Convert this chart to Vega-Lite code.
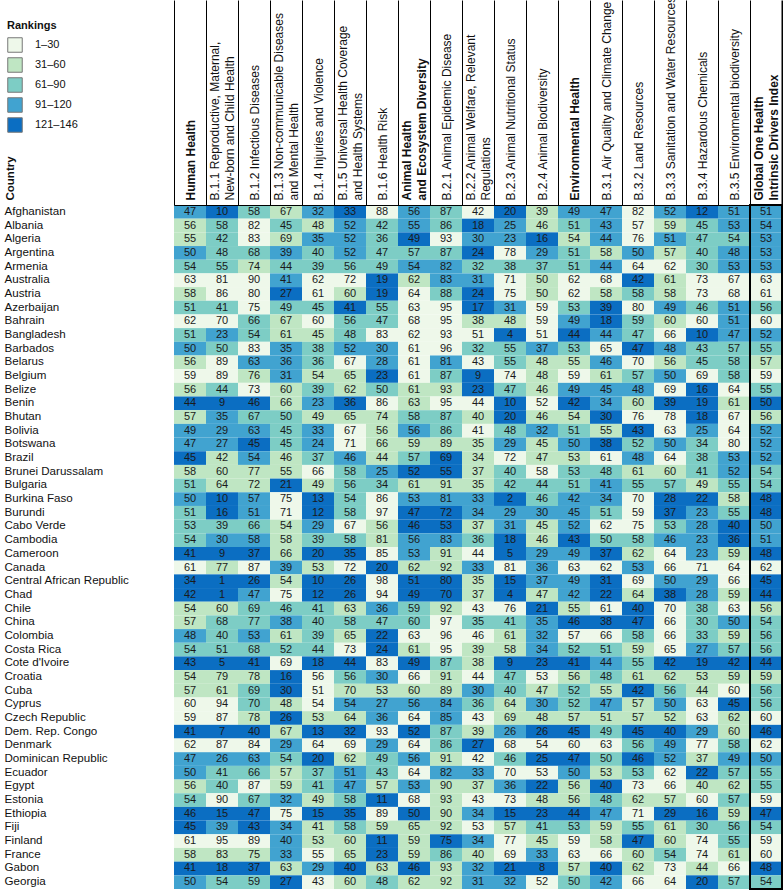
{
"$schema":"https://vega.github.io/schema/vega-lite/v6.json",
"autosize":{"type":"none"},
"padding":{"left":174,"top":205,"right":1,"bottom":2},
"width":608,"height":684,
"background":"white",
"config":{"view":{"stroke":null},"font":"Liberation Sans"},
"data":{"values":[
{"c":"Afghanistan","k":"HH","v":47,"r":4},{"c":"Afghanistan","k":"B11","v":10,"r":5},{"c":"Afghanistan","k":"B12","v":58,"r":3},{"c":"Afghanistan","k":"B13","v":67,"r":2},{"c":"Afghanistan","k":"B14","v":32,"r":4},{"c":"Afghanistan","k":"B15","v":33,"r":5},{"c":"Afghanistan","k":"B16","v":88,"r":1},{"c":"Afghanistan","k":"AH","v":56,"r":4},{"c":"Afghanistan","k":"B21","v":87,"r":3},{"c":"Afghanistan","k":"B22","v":42,"r":1},{"c":"Afghanistan","k":"B23","v":20,"r":5},{"c":"Afghanistan","k":"B24","v":39,"r":2},{"c":"Afghanistan","k":"EH","v":49,"r":4},{"c":"Afghanistan","k":"B31","v":47,"r":4},{"c":"Afghanistan","k":"B32","v":82,"r":1},{"c":"Afghanistan","k":"B33","v":52,"r":4},{"c":"Afghanistan","k":"B34","v":12,"r":5},{"c":"Afghanistan","k":"B35","v":51,"r":4},{"c":"Afghanistan","k":"GI","v":51,"r":4},
{"c":"Albania","k":"HH","v":56,"r":2},{"c":"Albania","k":"B11","v":58,"r":3},{"c":"Albania","k":"B12","v":82,"r":1},{"c":"Albania","k":"B13","v":45,"r":3},{"c":"Albania","k":"B14","v":48,"r":2},{"c":"Albania","k":"B15","v":52,"r":4},{"c":"Albania","k":"B16","v":42,"r":3},{"c":"Albania","k":"AH","v":55,"r":4},{"c":"Albania","k":"B21","v":86,"r":3},{"c":"Albania","k":"B22","v":18,"r":5},{"c":"Albania","k":"B23","v":25,"r":4},{"c":"Albania","k":"B24","v":46,"r":2},{"c":"Albania","k":"EH","v":51,"r":3},{"c":"Albania","k":"B31","v":43,"r":4},{"c":"Albania","k":"B32","v":57,"r":1},{"c":"Albania","k":"B33","v":59,"r":2},{"c":"Albania","k":"B34","v":45,"r":3},{"c":"Albania","k":"B35","v":53,"r":4},{"c":"Albania","k":"GI","v":54,"r":4},
{"c":"Algeria","k":"HH","v":55,"r":2},{"c":"Algeria","k":"B11","v":42,"r":3},{"c":"Algeria","k":"B12","v":83,"r":1},{"c":"Algeria","k":"B13","v":69,"r":2},{"c":"Algeria","k":"B14","v":35,"r":4},{"c":"Algeria","k":"B15","v":52,"r":4},{"c":"Algeria","k":"B16","v":36,"r":3},{"c":"Algeria","k":"AH","v":49,"r":5},{"c":"Algeria","k":"B21","v":93,"r":1},{"c":"Algeria","k":"B22","v":30,"r":4},{"c":"Algeria","k":"B23","v":23,"r":4},{"c":"Algeria","k":"B24","v":16,"r":5},{"c":"Algeria","k":"EH","v":54,"r":2},{"c":"Algeria","k":"B31","v":44,"r":4},{"c":"Algeria","k":"B32","v":76,"r":1},{"c":"Algeria","k":"B33","v":51,"r":4},{"c":"Algeria","k":"B34","v":47,"r":3},{"c":"Algeria","k":"B35","v":54,"r":3},{"c":"Algeria","k":"GI","v":53,"r":4},
{"c":"Argentina","k":"HH","v":50,"r":4},{"c":"Argentina","k":"B11","v":48,"r":3},{"c":"Argentina","k":"B12","v":68,"r":3},{"c":"Argentina","k":"B13","v":39,"r":4},{"c":"Argentina","k":"B14","v":40,"r":3},{"c":"Argentina","k":"B15","v":52,"r":4},{"c":"Argentina","k":"B16","v":47,"r":3},{"c":"Argentina","k":"AH","v":57,"r":3},{"c":"Argentina","k":"B21","v":87,"r":3},{"c":"Argentina","k":"B22","v":24,"r":5},{"c":"Argentina","k":"B23","v":78,"r":1},{"c":"Argentina","k":"B24","v":29,"r":4},{"c":"Argentina","k":"EH","v":51,"r":3},{"c":"Argentina","k":"B31","v":58,"r":2},{"c":"Argentina","k":"B32","v":50,"r":4},{"c":"Argentina","k":"B33","v":57,"r":2},{"c":"Argentina","k":"B34","v":40,"r":3},{"c":"Argentina","k":"B35","v":48,"r":4},{"c":"Argentina","k":"GI","v":53,"r":4},
{"c":"Armenia","k":"HH","v":54,"r":3},{"c":"Armenia","k":"B11","v":55,"r":3},{"c":"Armenia","k":"B12","v":74,"r":2},{"c":"Armenia","k":"B13","v":44,"r":3},{"c":"Armenia","k":"B14","v":39,"r":3},{"c":"Armenia","k":"B15","v":56,"r":3},{"c":"Armenia","k":"B16","v":49,"r":3},{"c":"Armenia","k":"AH","v":54,"r":4},{"c":"Armenia","k":"B21","v":82,"r":4},{"c":"Armenia","k":"B22","v":32,"r":3},{"c":"Armenia","k":"B23","v":38,"r":3},{"c":"Armenia","k":"B24","v":37,"r":3},{"c":"Armenia","k":"EH","v":51,"r":3},{"c":"Armenia","k":"B31","v":44,"r":4},{"c":"Armenia","k":"B32","v":64,"r":1},{"c":"Armenia","k":"B33","v":62,"r":1},{"c":"Armenia","k":"B34","v":30,"r":3},{"c":"Armenia","k":"B35","v":53,"r":4},{"c":"Armenia","k":"GI","v":53,"r":4},
{"c":"Australia","k":"HH","v":63,"r":1},{"c":"Australia","k":"B11","v":81,"r":1},{"c":"Australia","k":"B12","v":90,"r":1},{"c":"Australia","k":"B13","v":41,"r":4},{"c":"Australia","k":"B14","v":62,"r":1},{"c":"Australia","k":"B15","v":72,"r":1},{"c":"Australia","k":"B16","v":19,"r":5},{"c":"Australia","k":"AH","v":62,"r":2},{"c":"Australia","k":"B21","v":83,"r":4},{"c":"Australia","k":"B22","v":31,"r":4},{"c":"Australia","k":"B23","v":71,"r":1},{"c":"Australia","k":"B24","v":50,"r":2},{"c":"Australia","k":"EH","v":62,"r":1},{"c":"Australia","k":"B31","v":68,"r":1},{"c":"Australia","k":"B32","v":42,"r":5},{"c":"Australia","k":"B33","v":61,"r":2},{"c":"Australia","k":"B34","v":73,"r":1},{"c":"Australia","k":"B35","v":67,"r":1},{"c":"Australia","k":"GI","v":63,"r":1},
{"c":"Austria","k":"HH","v":58,"r":2},{"c":"Austria","k":"B11","v":86,"r":1},{"c":"Austria","k":"B12","v":80,"r":1},{"c":"Austria","k":"B13","v":27,"r":5},{"c":"Austria","k":"B14","v":61,"r":1},{"c":"Austria","k":"B15","v":60,"r":2},{"c":"Austria","k":"B16","v":19,"r":5},{"c":"Austria","k":"AH","v":64,"r":1},{"c":"Austria","k":"B21","v":88,"r":3},{"c":"Austria","k":"B22","v":24,"r":5},{"c":"Austria","k":"B23","v":75,"r":1},{"c":"Austria","k":"B24","v":50,"r":2},{"c":"Austria","k":"EH","v":62,"r":1},{"c":"Austria","k":"B31","v":58,"r":2},{"c":"Austria","k":"B32","v":58,"r":3},{"c":"Austria","k":"B33","v":58,"r":2},{"c":"Austria","k":"B34","v":73,"r":1},{"c":"Austria","k":"B35","v":68,"r":1},{"c":"Austria","k":"GI","v":61,"r":1},
{"c":"Azerbaijan","k":"HH","v":51,"r":3},{"c":"Azerbaijan","k":"B11","v":41,"r":3},{"c":"Azerbaijan","k":"B12","v":75,"r":1},{"c":"Azerbaijan","k":"B13","v":49,"r":3},{"c":"Azerbaijan","k":"B14","v":45,"r":3},{"c":"Azerbaijan","k":"B15","v":41,"r":5},{"c":"Azerbaijan","k":"B16","v":55,"r":3},{"c":"Azerbaijan","k":"AH","v":63,"r":1},{"c":"Azerbaijan","k":"B21","v":95,"r":1},{"c":"Azerbaijan","k":"B22","v":17,"r":5},{"c":"Azerbaijan","k":"B23","v":31,"r":4},{"c":"Azerbaijan","k":"B24","v":59,"r":1},{"c":"Azerbaijan","k":"EH","v":53,"r":3},{"c":"Azerbaijan","k":"B31","v":39,"r":5},{"c":"Azerbaijan","k":"B32","v":80,"r":1},{"c":"Azerbaijan","k":"B33","v":49,"r":4},{"c":"Azerbaijan","k":"B34","v":46,"r":3},{"c":"Azerbaijan","k":"B35","v":51,"r":4},{"c":"Azerbaijan","k":"GI","v":56,"r":3},
{"c":"Bahrain","k":"HH","v":62,"r":1},{"c":"Bahrain","k":"B11","v":70,"r":1},{"c":"Bahrain","k":"B12","v":66,"r":3},{"c":"Bahrain","k":"B13","v":67,"r":2},{"c":"Bahrain","k":"B14","v":60,"r":1},{"c":"Bahrain","k":"B15","v":56,"r":3},{"c":"Bahrain","k":"B16","v":47,"r":3},{"c":"Bahrain","k":"AH","v":68,"r":1},{"c":"Bahrain","k":"B21","v":95,"r":1},{"c":"Bahrain","k":"B22","v":38,"r":2},{"c":"Bahrain","k":"B23","v":48,"r":2},{"c":"Bahrain","k":"B24","v":59,"r":1},{"c":"Bahrain","k":"EH","v":49,"r":4},{"c":"Bahrain","k":"B31","v":18,"r":5},{"c":"Bahrain","k":"B32","v":59,"r":3},{"c":"Bahrain","k":"B33","v":60,"r":2},{"c":"Bahrain","k":"B34","v":60,"r":1},{"c":"Bahrain","k":"B35","v":51,"r":4},{"c":"Bahrain","k":"GI","v":60,"r":1},
{"c":"Bangladesh","k":"HH","v":51,"r":3},{"c":"Bangladesh","k":"B11","v":23,"r":4},{"c":"Bangladesh","k":"B12","v":54,"r":3},{"c":"Bangladesh","k":"B13","v":61,"r":2},{"c":"Bangladesh","k":"B14","v":45,"r":2},{"c":"Bangladesh","k":"B15","v":48,"r":3},{"c":"Bangladesh","k":"B16","v":83,"r":1},{"c":"Bangladesh","k":"AH","v":62,"r":1},{"c":"Bangladesh","k":"B21","v":93,"r":1},{"c":"Bangladesh","k":"B22","v":51,"r":1},{"c":"Bangladesh","k":"B23","v":4,"r":5},{"c":"Bangladesh","k":"B24","v":51,"r":1},{"c":"Bangladesh","k":"EH","v":44,"r":5},{"c":"Bangladesh","k":"B31","v":44,"r":4},{"c":"Bangladesh","k":"B32","v":47,"r":3},{"c":"Bangladesh","k":"B33","v":66,"r":1},{"c":"Bangladesh","k":"B34","v":10,"r":5},{"c":"Bangladesh","k":"B35","v":47,"r":4},{"c":"Bangladesh","k":"GI","v":52,"r":4},
{"c":"Barbados","k":"HH","v":50,"r":4},{"c":"Barbados","k":"B11","v":50,"r":3},{"c":"Barbados","k":"B12","v":83,"r":1},{"c":"Barbados","k":"B13","v":35,"r":4},{"c":"Barbados","k":"B14","v":38,"r":3},{"c":"Barbados","k":"B15","v":52,"r":4},{"c":"Barbados","k":"B16","v":30,"r":4},{"c":"Barbados","k":"AH","v":61,"r":1},{"c":"Barbados","k":"B21","v":96,"r":1},{"c":"Barbados","k":"B22","v":32,"r":3},{"c":"Barbados","k":"B23","v":55,"r":3},{"c":"Barbados","k":"B24","v":37,"r":4},{"c":"Barbados","k":"EH","v":53,"r":3},{"c":"Barbados","k":"B31","v":65,"r":1},{"c":"Barbados","k":"B32","v":47,"r":5},{"c":"Barbados","k":"B33","v":48,"r":4},{"c":"Barbados","k":"B34","v":43,"r":3},{"c":"Barbados","k":"B35","v":57,"r":3},{"c":"Barbados","k":"GI","v":55,"r":3},
{"c":"Belarus","k":"HH","v":56,"r":2},{"c":"Belarus","k":"B11","v":89,"r":1},{"c":"Belarus","k":"B12","v":63,"r":4},{"c":"Belarus","k":"B13","v":36,"r":4},{"c":"Belarus","k":"B14","v":36,"r":3},{"c":"Belarus","k":"B15","v":67,"r":1},{"c":"Belarus","k":"B16","v":28,"r":4},{"c":"Belarus","k":"AH","v":61,"r":1},{"c":"Belarus","k":"B21","v":81,"r":4},{"c":"Belarus","k":"B22","v":43,"r":1},{"c":"Belarus","k":"B23","v":55,"r":3},{"c":"Belarus","k":"B24","v":48,"r":2},{"c":"Belarus","k":"EH","v":55,"r":2},{"c":"Belarus","k":"B31","v":46,"r":4},{"c":"Belarus","k":"B32","v":70,"r":1},{"c":"Belarus","k":"B33","v":56,"r":2},{"c":"Belarus","k":"B34","v":45,"r":3},{"c":"Belarus","k":"B35","v":58,"r":3},{"c":"Belarus","k":"GI","v":57,"r":2},
{"c":"Belgium","k":"HH","v":59,"r":1},{"c":"Belgium","k":"B11","v":89,"r":1},{"c":"Belgium","k":"B12","v":76,"r":2},{"c":"Belgium","k":"B13","v":31,"r":4},{"c":"Belgium","k":"B14","v":54,"r":2},{"c":"Belgium","k":"B15","v":65,"r":2},{"c":"Belgium","k":"B16","v":23,"r":5},{"c":"Belgium","k":"AH","v":61,"r":1},{"c":"Belgium","k":"B21","v":87,"r":3},{"c":"Belgium","k":"B22","v":9,"r":5},{"c":"Belgium","k":"B23","v":74,"r":1},{"c":"Belgium","k":"B24","v":48,"r":2},{"c":"Belgium","k":"EH","v":59,"r":1},{"c":"Belgium","k":"B31","v":61,"r":2},{"c":"Belgium","k":"B32","v":57,"r":3},{"c":"Belgium","k":"B33","v":50,"r":4},{"c":"Belgium","k":"B34","v":69,"r":1},{"c":"Belgium","k":"B35","v":58,"r":3},{"c":"Belgium","k":"GI","v":59,"r":1},
{"c":"Belize","k":"HH","v":56,"r":2},{"c":"Belize","k":"B11","v":44,"r":3},{"c":"Belize","k":"B12","v":73,"r":1},{"c":"Belize","k":"B13","v":60,"r":2},{"c":"Belize","k":"B14","v":39,"r":3},{"c":"Belize","k":"B15","v":62,"r":2},{"c":"Belize","k":"B16","v":50,"r":3},{"c":"Belize","k":"AH","v":61,"r":2},{"c":"Belize","k":"B21","v":93,"r":2},{"c":"Belize","k":"B22","v":23,"r":5},{"c":"Belize","k":"B23","v":47,"r":3},{"c":"Belize","k":"B24","v":46,"r":2},{"c":"Belize","k":"EH","v":49,"r":4},{"c":"Belize","k":"B31","v":45,"r":4},{"c":"Belize","k":"B32","v":48,"r":4},{"c":"Belize","k":"B33","v":69,"r":1},{"c":"Belize","k":"B34","v":16,"r":5},{"c":"Belize","k":"B35","v":64,"r":1},{"c":"Belize","k":"GI","v":55,"r":3},
{"c":"Benin","k":"HH","v":44,"r":5},{"c":"Benin","k":"B11","v":9,"r":5},{"c":"Benin","k":"B12","v":46,"r":5},{"c":"Benin","k":"B13","v":66,"r":2},{"c":"Benin","k":"B14","v":23,"r":4},{"c":"Benin","k":"B15","v":36,"r":5},{"c":"Benin","k":"B16","v":86,"r":1},{"c":"Benin","k":"AH","v":63,"r":2},{"c":"Benin","k":"B21","v":95,"r":1},{"c":"Benin","k":"B22","v":44,"r":1},{"c":"Benin","k":"B23","v":10,"r":5},{"c":"Benin","k":"B24","v":52,"r":1},{"c":"Benin","k":"EH","v":42,"r":5},{"c":"Benin","k":"B31","v":34,"r":4},{"c":"Benin","k":"B32","v":60,"r":2},{"c":"Benin","k":"B33","v":39,"r":5},{"c":"Benin","k":"B34","v":19,"r":5},{"c":"Benin","k":"B35","v":61,"r":2},{"c":"Benin","k":"GI","v":50,"r":5},
{"c":"Bhutan","k":"HH","v":57,"r":2},{"c":"Bhutan","k":"B11","v":35,"r":4},{"c":"Bhutan","k":"B12","v":67,"r":3},{"c":"Bhutan","k":"B13","v":50,"r":3},{"c":"Bhutan","k":"B14","v":49,"r":2},{"c":"Bhutan","k":"B15","v":65,"r":2},{"c":"Bhutan","k":"B16","v":74,"r":2},{"c":"Bhutan","k":"AH","v":58,"r":3},{"c":"Bhutan","k":"B21","v":87,"r":3},{"c":"Bhutan","k":"B22","v":40,"r":2},{"c":"Bhutan","k":"B23","v":20,"r":5},{"c":"Bhutan","k":"B24","v":46,"r":2},{"c":"Bhutan","k":"EH","v":54,"r":2},{"c":"Bhutan","k":"B31","v":30,"r":5},{"c":"Bhutan","k":"B32","v":76,"r":1},{"c":"Bhutan","k":"B33","v":78,"r":1},{"c":"Bhutan","k":"B34","v":18,"r":5},{"c":"Bhutan","k":"B35","v":67,"r":1},{"c":"Bhutan","k":"GI","v":56,"r":2},
{"c":"Bolivia","k":"HH","v":49,"r":4},{"c":"Bolivia","k":"B11","v":29,"r":4},{"c":"Bolivia","k":"B12","v":63,"r":4},{"c":"Bolivia","k":"B13","v":45,"r":3},{"c":"Bolivia","k":"B14","v":33,"r":4},{"c":"Bolivia","k":"B15","v":67,"r":1},{"c":"Bolivia","k":"B16","v":56,"r":2},{"c":"Bolivia","k":"AH","v":56,"r":4},{"c":"Bolivia","k":"B21","v":86,"r":3},{"c":"Bolivia","k":"B22","v":41,"r":1},{"c":"Bolivia","k":"B23","v":48,"r":3},{"c":"Bolivia","k":"B24","v":32,"r":4},{"c":"Bolivia","k":"EH","v":51,"r":3},{"c":"Bolivia","k":"B31","v":55,"r":2},{"c":"Bolivia","k":"B32","v":43,"r":5},{"c":"Bolivia","k":"B33","v":63,"r":1},{"c":"Bolivia","k":"B34","v":25,"r":4},{"c":"Bolivia","k":"B35","v":64,"r":1},{"c":"Bolivia","k":"GI","v":52,"r":4},
{"c":"Botswana","k":"HH","v":47,"r":4},{"c":"Botswana","k":"B11","v":27,"r":4},{"c":"Botswana","k":"B12","v":45,"r":5},{"c":"Botswana","k":"B13","v":45,"r":3},{"c":"Botswana","k":"B14","v":24,"r":4},{"c":"Botswana","k":"B15","v":71,"r":1},{"c":"Botswana","k":"B16","v":66,"r":2},{"c":"Botswana","k":"AH","v":59,"r":2},{"c":"Botswana","k":"B21","v":89,"r":2},{"c":"Botswana","k":"B22","v":35,"r":2},{"c":"Botswana","k":"B23","v":29,"r":4},{"c":"Botswana","k":"B24","v":45,"r":2},{"c":"Botswana","k":"EH","v":50,"r":4},{"c":"Botswana","k":"B31","v":38,"r":5},{"c":"Botswana","k":"B32","v":52,"r":3},{"c":"Botswana","k":"B33","v":50,"r":4},{"c":"Botswana","k":"B34","v":34,"r":3},{"c":"Botswana","k":"B35","v":80,"r":1},{"c":"Botswana","k":"GI","v":52,"r":4},
{"c":"Brazil","k":"HH","v":45,"r":5},{"c":"Brazil","k":"B11","v":42,"r":2},{"c":"Brazil","k":"B12","v":54,"r":4},{"c":"Brazil","k":"B13","v":46,"r":2},{"c":"Brazil","k":"B14","v":37,"r":3},{"c":"Brazil","k":"B15","v":46,"r":4},{"c":"Brazil","k":"B16","v":44,"r":2},{"c":"Brazil","k":"AH","v":57,"r":3},{"c":"Brazil","k":"B21","v":69,"r":5},{"c":"Brazil","k":"B22","v":34,"r":2},{"c":"Brazil","k":"B23","v":72,"r":1},{"c":"Brazil","k":"B24","v":47,"r":2},{"c":"Brazil","k":"EH","v":53,"r":2},{"c":"Brazil","k":"B31","v":61,"r":1},{"c":"Brazil","k":"B32","v":48,"r":4},{"c":"Brazil","k":"B33","v":64,"r":1},{"c":"Brazil","k":"B34","v":38,"r":3},{"c":"Brazil","k":"B35","v":53,"r":4},{"c":"Brazil","k":"GI","v":52,"r":4},
{"c":"Brunei Darussalam","k":"HH","v":58,"r":2},{"c":"Brunei Darussalam","k":"B11","v":60,"r":2},{"c":"Brunei Darussalam","k":"B12","v":77,"r":2},{"c":"Brunei Darussalam","k":"B13","v":55,"r":2},{"c":"Brunei Darussalam","k":"B14","v":66,"r":1},{"c":"Brunei Darussalam","k":"B15","v":58,"r":3},{"c":"Brunei Darussalam","k":"B16","v":25,"r":4},{"c":"Brunei Darussalam","k":"AH","v":52,"r":5},{"c":"Brunei Darussalam","k":"B21","v":55,"r":5},{"c":"Brunei Darussalam","k":"B22","v":37,"r":2},{"c":"Brunei Darussalam","k":"B23","v":40,"r":3},{"c":"Brunei Darussalam","k":"B24","v":58,"r":1},{"c":"Brunei Darussalam","k":"EH","v":53,"r":3},{"c":"Brunei Darussalam","k":"B31","v":48,"r":3},{"c":"Brunei Darussalam","k":"B32","v":61,"r":2},{"c":"Brunei Darussalam","k":"B33","v":60,"r":2},{"c":"Brunei Darussalam","k":"B34","v":41,"r":3},{"c":"Brunei Darussalam","k":"B35","v":52,"r":4},{"c":"Brunei Darussalam","k":"GI","v":54,"r":3},
{"c":"Bulgaria","k":"HH","v":51,"r":3},{"c":"Bulgaria","k":"B11","v":64,"r":2},{"c":"Bulgaria","k":"B12","v":72,"r":2},{"c":"Bulgaria","k":"B13","v":21,"r":5},{"c":"Bulgaria","k":"B14","v":49,"r":2},{"c":"Bulgaria","k":"B15","v":56,"r":3},{"c":"Bulgaria","k":"B16","v":34,"r":3},{"c":"Bulgaria","k":"AH","v":61,"r":2},{"c":"Bulgaria","k":"B21","v":91,"r":2},{"c":"Bulgaria","k":"B22","v":35,"r":2},{"c":"Bulgaria","k":"B23","v":42,"r":3},{"c":"Bulgaria","k":"B24","v":44,"r":3},{"c":"Bulgaria","k":"EH","v":51,"r":3},{"c":"Bulgaria","k":"B31","v":41,"r":4},{"c":"Bulgaria","k":"B32","v":55,"r":3},{"c":"Bulgaria","k":"B33","v":57,"r":3},{"c":"Bulgaria","k":"B34","v":49,"r":2},{"c":"Bulgaria","k":"B35","v":55,"r":3},{"c":"Bulgaria","k":"GI","v":54,"r":3},
{"c":"Burkina Faso","k":"HH","v":50,"r":4},{"c":"Burkina Faso","k":"B11","v":10,"r":5},{"c":"Burkina Faso","k":"B12","v":57,"r":4},{"c":"Burkina Faso","k":"B13","v":75,"r":1},{"c":"Burkina Faso","k":"B14","v":13,"r":5},{"c":"Burkina Faso","k":"B15","v":54,"r":3},{"c":"Burkina Faso","k":"B16","v":86,"r":1},{"c":"Burkina Faso","k":"AH","v":53,"r":4},{"c":"Burkina Faso","k":"B21","v":81,"r":4},{"c":"Burkina Faso","k":"B22","v":33,"r":4},{"c":"Burkina Faso","k":"B23","v":2,"r":5},{"c":"Burkina Faso","k":"B24","v":46,"r":3},{"c":"Burkina Faso","k":"EH","v":42,"r":4},{"c":"Burkina Faso","k":"B31","v":34,"r":4},{"c":"Burkina Faso","k":"B32","v":70,"r":1},{"c":"Burkina Faso","k":"B33","v":28,"r":5},{"c":"Burkina Faso","k":"B34","v":22,"r":5},{"c":"Burkina Faso","k":"B35","v":58,"r":2},{"c":"Burkina Faso","k":"GI","v":48,"r":5},
{"c":"Burundi","k":"HH","v":51,"r":3},{"c":"Burundi","k":"B11","v":16,"r":5},{"c":"Burundi","k":"B12","v":51,"r":4},{"c":"Burundi","k":"B13","v":71,"r":1},{"c":"Burundi","k":"B14","v":12,"r":5},{"c":"Burundi","k":"B15","v":58,"r":3},{"c":"Burundi","k":"B16","v":97,"r":1},{"c":"Burundi","k":"AH","v":47,"r":5},{"c":"Burundi","k":"B21","v":72,"r":5},{"c":"Burundi","k":"B22","v":34,"r":4},{"c":"Burundi","k":"B23","v":29,"r":4},{"c":"Burundi","k":"B24","v":30,"r":4},{"c":"Burundi","k":"EH","v":45,"r":4},{"c":"Burundi","k":"B31","v":51,"r":3},{"c":"Burundi","k":"B32","v":59,"r":1},{"c":"Burundi","k":"B33","v":37,"r":5},{"c":"Burundi","k":"B34","v":23,"r":4},{"c":"Burundi","k":"B35","v":55,"r":3},{"c":"Burundi","k":"GI","v":48,"r":5},
{"c":"Cabo Verde","k":"HH","v":53,"r":3},{"c":"Cabo Verde","k":"B11","v":39,"r":3},{"c":"Cabo Verde","k":"B12","v":66,"r":3},{"c":"Cabo Verde","k":"B13","v":54,"r":2},{"c":"Cabo Verde","k":"B14","v":29,"r":4},{"c":"Cabo Verde","k":"B15","v":67,"r":1},{"c":"Cabo Verde","k":"B16","v":56,"r":2},{"c":"Cabo Verde","k":"AH","v":46,"r":5},{"c":"Cabo Verde","k":"B21","v":53,"r":5},{"c":"Cabo Verde","k":"B22","v":37,"r":2},{"c":"Cabo Verde","k":"B23","v":31,"r":4},{"c":"Cabo Verde","k":"B24","v":45,"r":2},{"c":"Cabo Verde","k":"EH","v":52,"r":4},{"c":"Cabo Verde","k":"B31","v":62,"r":1},{"c":"Cabo Verde","k":"B32","v":75,"r":1},{"c":"Cabo Verde","k":"B33","v":53,"r":3},{"c":"Cabo Verde","k":"B34","v":28,"r":4},{"c":"Cabo Verde","k":"B35","v":40,"r":5},{"c":"Cabo Verde","k":"GI","v":50,"r":4},
{"c":"Cambodia","k":"HH","v":54,"r":3},{"c":"Cambodia","k":"B11","v":30,"r":4},{"c":"Cambodia","k":"B12","v":58,"r":4},{"c":"Cambodia","k":"B13","v":58,"r":2},{"c":"Cambodia","k":"B14","v":39,"r":3},{"c":"Cambodia","k":"B15","v":58,"r":3},{"c":"Cambodia","k":"B16","v":81,"r":2},{"c":"Cambodia","k":"AH","v":56,"r":4},{"c":"Cambodia","k":"B21","v":83,"r":4},{"c":"Cambodia","k":"B22","v":36,"r":3},{"c":"Cambodia","k":"B23","v":18,"r":5},{"c":"Cambodia","k":"B24","v":46,"r":2},{"c":"Cambodia","k":"EH","v":43,"r":5},{"c":"Cambodia","k":"B31","v":50,"r":3},{"c":"Cambodia","k":"B32","v":58,"r":3},{"c":"Cambodia","k":"B33","v":46,"r":4},{"c":"Cambodia","k":"B34","v":23,"r":4},{"c":"Cambodia","k":"B35","v":36,"r":5},{"c":"Cambodia","k":"GI","v":51,"r":4},
{"c":"Cameroon","k":"HH","v":41,"r":5},{"c":"Cameroon","k":"B11","v":9,"r":5},{"c":"Cameroon","k":"B12","v":37,"r":5},{"c":"Cameroon","k":"B13","v":66,"r":2},{"c":"Cameroon","k":"B14","v":20,"r":5},{"c":"Cameroon","k":"B15","v":35,"r":5},{"c":"Cameroon","k":"B16","v":85,"r":1},{"c":"Cameroon","k":"AH","v":53,"r":4},{"c":"Cameroon","k":"B21","v":91,"r":2},{"c":"Cameroon","k":"B22","v":44,"r":1},{"c":"Cameroon","k":"B23","v":5,"r":5},{"c":"Cameroon","k":"B24","v":29,"r":4},{"c":"Cameroon","k":"EH","v":49,"r":4},{"c":"Cameroon","k":"B31","v":37,"r":5},{"c":"Cameroon","k":"B32","v":62,"r":2},{"c":"Cameroon","k":"B33","v":64,"r":1},{"c":"Cameroon","k":"B34","v":23,"r":4},{"c":"Cameroon","k":"B35","v":59,"r":2},{"c":"Cameroon","k":"GI","v":48,"r":5},
{"c":"Canada","k":"HH","v":61,"r":1},{"c":"Canada","k":"B11","v":77,"r":2},{"c":"Canada","k":"B12","v":87,"r":1},{"c":"Canada","k":"B13","v":39,"r":4},{"c":"Canada","k":"B14","v":53,"r":2},{"c":"Canada","k":"B15","v":72,"r":1},{"c":"Canada","k":"B16","v":20,"r":5},{"c":"Canada","k":"AH","v":62,"r":2},{"c":"Canada","k":"B21","v":92,"r":2},{"c":"Canada","k":"B22","v":33,"r":4},{"c":"Canada","k":"B23","v":81,"r":1},{"c":"Canada","k":"B24","v":36,"r":4},{"c":"Canada","k":"EH","v":63,"r":1},{"c":"Canada","k":"B31","v":62,"r":1},{"c":"Canada","k":"B32","v":53,"r":4},{"c":"Canada","k":"B33","v":66,"r":1},{"c":"Canada","k":"B34","v":71,"r":1},{"c":"Canada","k":"B35","v":64,"r":1},{"c":"Canada","k":"GI","v":62,"r":1},
{"c":"Central African Republic","k":"HH","v":34,"r":5},{"c":"Central African Republic","k":"B11","v":1,"r":5},{"c":"Central African Republic","k":"B12","v":26,"r":5},{"c":"Central African Republic","k":"B13","v":54,"r":2},{"c":"Central African Republic","k":"B14","v":10,"r":5},{"c":"Central African Republic","k":"B15","v":26,"r":5},{"c":"Central African Republic","k":"B16","v":98,"r":1},{"c":"Central African Republic","k":"AH","v":51,"r":5},{"c":"Central African Republic","k":"B21","v":80,"r":5},{"c":"Central African Republic","k":"B22","v":35,"r":2},{"c":"Central African Republic","k":"B23","v":15,"r":5},{"c":"Central African Republic","k":"B24","v":37,"r":4},{"c":"Central African Republic","k":"EH","v":49,"r":4},{"c":"Central African Republic","k":"B31","v":31,"r":5},{"c":"Central African Republic","k":"B32","v":69,"r":1},{"c":"Central African Republic","k":"B33","v":50,"r":4},{"c":"Central African Republic","k":"B34","v":29,"r":4},{"c":"Central African Republic","k":"B35","v":66,"r":1},{"c":"Central African Republic","k":"GI","v":45,"r":5},
{"c":"Chad","k":"HH","v":42,"r":5},{"c":"Chad","k":"B11","v":1,"r":5},{"c":"Chad","k":"B12","v":47,"r":4},{"c":"Chad","k":"B13","v":75,"r":1},{"c":"Chad","k":"B14","v":12,"r":5},{"c":"Chad","k":"B15","v":26,"r":5},{"c":"Chad","k":"B16","v":94,"r":1},{"c":"Chad","k":"AH","v":49,"r":5},{"c":"Chad","k":"B21","v":70,"r":5},{"c":"Chad","k":"B22","v":37,"r":2},{"c":"Chad","k":"B23","v":4,"r":5},{"c":"Chad","k":"B24","v":47,"r":2},{"c":"Chad","k":"EH","v":42,"r":4},{"c":"Chad","k":"B31","v":22,"r":5},{"c":"Chad","k":"B32","v":64,"r":2},{"c":"Chad","k":"B33","v":38,"r":5},{"c":"Chad","k":"B34","v":28,"r":4},{"c":"Chad","k":"B35","v":59,"r":2},{"c":"Chad","k":"GI","v":44,"r":5},
{"c":"Chile","k":"HH","v":54,"r":2},{"c":"Chile","k":"B11","v":60,"r":2},{"c":"Chile","k":"B12","v":69,"r":3},{"c":"Chile","k":"B13","v":46,"r":3},{"c":"Chile","k":"B14","v":41,"r":3},{"c":"Chile","k":"B15","v":63,"r":2},{"c":"Chile","k":"B16","v":36,"r":4},{"c":"Chile","k":"AH","v":59,"r":3},{"c":"Chile","k":"B21","v":92,"r":2},{"c":"Chile","k":"B22","v":43,"r":1},{"c":"Chile","k":"B23","v":76,"r":1},{"c":"Chile","k":"B24","v":21,"r":5},{"c":"Chile","k":"EH","v":55,"r":2},{"c":"Chile","k":"B31","v":61,"r":1},{"c":"Chile","k":"B32","v":40,"r":5},{"c":"Chile","k":"B33","v":70,"r":1},{"c":"Chile","k":"B34","v":38,"r":3},{"c":"Chile","k":"B35","v":63,"r":1},{"c":"Chile","k":"GI","v":56,"r":2},
{"c":"China","k":"HH","v":57,"r":2},{"c":"China","k":"B11","v":68,"r":3},{"c":"China","k":"B12","v":77,"r":3},{"c":"China","k":"B13","v":38,"r":4},{"c":"China","k":"B14","v":40,"r":3},{"c":"China","k":"B15","v":58,"r":3},{"c":"China","k":"B16","v":47,"r":3},{"c":"China","k":"AH","v":60,"r":3},{"c":"China","k":"B21","v":97,"r":1},{"c":"China","k":"B22","v":35,"r":3},{"c":"China","k":"B23","v":41,"r":3},{"c":"China","k":"B24","v":35,"r":4},{"c":"China","k":"EH","v":46,"r":5},{"c":"China","k":"B31","v":38,"r":5},{"c":"China","k":"B32","v":47,"r":5},{"c":"China","k":"B33","v":66,"r":1},{"c":"China","k":"B34","v":30,"r":3},{"c":"China","k":"B35","v":50,"r":4},{"c":"China","k":"GI","v":54,"r":3},
{"c":"Colombia","k":"HH","v":48,"r":4},{"c":"Colombia","k":"B11","v":40,"r":3},{"c":"Colombia","k":"B12","v":53,"r":4},{"c":"Colombia","k":"B13","v":61,"r":2},{"c":"Colombia","k":"B14","v":39,"r":3},{"c":"Colombia","k":"B15","v":65,"r":2},{"c":"Colombia","k":"B16","v":22,"r":5},{"c":"Colombia","k":"AH","v":63,"r":1},{"c":"Colombia","k":"B21","v":96,"r":1},{"c":"Colombia","k":"B22","v":46,"r":1},{"c":"Colombia","k":"B23","v":61,"r":2},{"c":"Colombia","k":"B24","v":32,"r":4},{"c":"Colombia","k":"EH","v":57,"r":1},{"c":"Colombia","k":"B31","v":66,"r":1},{"c":"Colombia","k":"B32","v":58,"r":3},{"c":"Colombia","k":"B33","v":66,"r":1},{"c":"Colombia","k":"B34","v":33,"r":3},{"c":"Colombia","k":"B35","v":59,"r":2},{"c":"Colombia","k":"GI","v":56,"r":3},
{"c":"Costa Rica","k":"HH","v":54,"r":3},{"c":"Costa Rica","k":"B11","v":51,"r":3},{"c":"Costa Rica","k":"B12","v":68,"r":3},{"c":"Costa Rica","k":"B13","v":52,"r":3},{"c":"Costa Rica","k":"B14","v":44,"r":3},{"c":"Costa Rica","k":"B15","v":73,"r":1},{"c":"Costa Rica","k":"B16","v":24,"r":5},{"c":"Costa Rica","k":"AH","v":61,"r":2},{"c":"Costa Rica","k":"B21","v":95,"r":1},{"c":"Costa Rica","k":"B22","v":39,"r":2},{"c":"Costa Rica","k":"B23","v":58,"r":2},{"c":"Costa Rica","k":"B24","v":34,"r":4},{"c":"Costa Rica","k":"EH","v":52,"r":3},{"c":"Costa Rica","k":"B31","v":51,"r":3},{"c":"Costa Rica","k":"B32","v":59,"r":2},{"c":"Costa Rica","k":"B33","v":65,"r":1},{"c":"Costa Rica","k":"B34","v":27,"r":4},{"c":"Costa Rica","k":"B35","v":57,"r":3},{"c":"Costa Rica","k":"GI","v":56,"r":3},
{"c":"Cote d'Ivoire","k":"HH","v":43,"r":5},{"c":"Cote d'Ivoire","k":"B11","v":5,"r":5},{"c":"Cote d'Ivoire","k":"B12","v":41,"r":5},{"c":"Cote d'Ivoire","k":"B13","v":69,"r":1},{"c":"Cote d'Ivoire","k":"B14","v":18,"r":5},{"c":"Cote d'Ivoire","k":"B15","v":44,"r":5},{"c":"Cote d'Ivoire","k":"B16","v":83,"r":1},{"c":"Cote d'Ivoire","k":"AH","v":49,"r":5},{"c":"Cote d'Ivoire","k":"B21","v":87,"r":3},{"c":"Cote d'Ivoire","k":"B22","v":38,"r":2},{"c":"Cote d'Ivoire","k":"B23","v":9,"r":5},{"c":"Cote d'Ivoire","k":"B24","v":23,"r":5},{"c":"Cote d'Ivoire","k":"EH","v":41,"r":5},{"c":"Cote d'Ivoire","k":"B31","v":44,"r":4},{"c":"Cote d'Ivoire","k":"B32","v":55,"r":3},{"c":"Cote d'Ivoire","k":"B33","v":42,"r":5},{"c":"Cote d'Ivoire","k":"B34","v":19,"r":5},{"c":"Cote d'Ivoire","k":"B35","v":42,"r":5},{"c":"Cote d'Ivoire","k":"GI","v":44,"r":5},
{"c":"Croatia","k":"HH","v":54,"r":2},{"c":"Croatia","k":"B11","v":79,"r":2},{"c":"Croatia","k":"B12","v":78,"r":2},{"c":"Croatia","k":"B13","v":16,"r":5},{"c":"Croatia","k":"B14","v":56,"r":1},{"c":"Croatia","k":"B15","v":56,"r":3},{"c":"Croatia","k":"B16","v":30,"r":4},{"c":"Croatia","k":"AH","v":66,"r":1},{"c":"Croatia","k":"B21","v":91,"r":2},{"c":"Croatia","k":"B22","v":44,"r":1},{"c":"Croatia","k":"B23","v":47,"r":3},{"c":"Croatia","k":"B24","v":53,"r":1},{"c":"Croatia","k":"EH","v":56,"r":2},{"c":"Croatia","k":"B31","v":48,"r":3},{"c":"Croatia","k":"B32","v":61,"r":2},{"c":"Croatia","k":"B33","v":62,"r":2},{"c":"Croatia","k":"B34","v":53,"r":2},{"c":"Croatia","k":"B35","v":59,"r":2},{"c":"Croatia","k":"GI","v":59,"r":2},
{"c":"Cuba","k":"HH","v":57,"r":2},{"c":"Cuba","k":"B11","v":61,"r":2},{"c":"Cuba","k":"B12","v":69,"r":3},{"c":"Cuba","k":"B13","v":30,"r":5},{"c":"Cuba","k":"B14","v":51,"r":1},{"c":"Cuba","k":"B15","v":70,"r":2},{"c":"Cuba","k":"B16","v":53,"r":2},{"c":"Cuba","k":"AH","v":60,"r":2},{"c":"Cuba","k":"B21","v":89,"r":2},{"c":"Cuba","k":"B22","v":30,"r":4},{"c":"Cuba","k":"B23","v":40,"r":3},{"c":"Cuba","k":"B24","v":47,"r":2},{"c":"Cuba","k":"EH","v":52,"r":3},{"c":"Cuba","k":"B31","v":55,"r":2},{"c":"Cuba","k":"B32","v":42,"r":5},{"c":"Cuba","k":"B33","v":56,"r":3},{"c":"Cuba","k":"B34","v":44,"r":2},{"c":"Cuba","k":"B35","v":60,"r":1},{"c":"Cuba","k":"GI","v":56,"r":3},
{"c":"Cyprus","k":"HH","v":60,"r":1},{"c":"Cyprus","k":"B11","v":94,"r":1},{"c":"Cyprus","k":"B12","v":70,"r":3},{"c":"Cyprus","k":"B13","v":48,"r":2},{"c":"Cyprus","k":"B14","v":54,"r":1},{"c":"Cyprus","k":"B15","v":54,"r":4},{"c":"Cyprus","k":"B16","v":27,"r":4},{"c":"Cyprus","k":"AH","v":56,"r":4},{"c":"Cyprus","k":"B21","v":84,"r":4},{"c":"Cyprus","k":"B22","v":36,"r":3},{"c":"Cyprus","k":"B23","v":64,"r":2},{"c":"Cyprus","k":"B24","v":30,"r":4},{"c":"Cyprus","k":"EH","v":52,"r":3},{"c":"Cyprus","k":"B31","v":47,"r":4},{"c":"Cyprus","k":"B32","v":57,"r":2},{"c":"Cyprus","k":"B33","v":50,"r":4},{"c":"Cyprus","k":"B34","v":63,"r":1},{"c":"Cyprus","k":"B35","v":45,"r":5},{"c":"Cyprus","k":"GI","v":56,"r":3},
{"c":"Czech Republic","k":"HH","v":59,"r":1},{"c":"Czech Republic","k":"B11","v":87,"r":1},{"c":"Czech Republic","k":"B12","v":78,"r":2},{"c":"Czech Republic","k":"B13","v":26,"r":5},{"c":"Czech Republic","k":"B14","v":53,"r":2},{"c":"Czech Republic","k":"B15","v":64,"r":2},{"c":"Czech Republic","k":"B16","v":36,"r":4},{"c":"Czech Republic","k":"AH","v":64,"r":1},{"c":"Czech Republic","k":"B21","v":85,"r":4},{"c":"Czech Republic","k":"B22","v":43,"r":1},{"c":"Czech Republic","k":"B23","v":69,"r":2},{"c":"Czech Republic","k":"B24","v":48,"r":2},{"c":"Czech Republic","k":"EH","v":57,"r":2},{"c":"Czech Republic","k":"B31","v":51,"r":2},{"c":"Czech Republic","k":"B32","v":57,"r":2},{"c":"Czech Republic","k":"B33","v":52,"r":2},{"c":"Czech Republic","k":"B34","v":63,"r":1},{"c":"Czech Republic","k":"B35","v":62,"r":2},{"c":"Czech Republic","k":"GI","v":60,"r":1},
{"c":"Dem. Rep. Congo","k":"HH","v":41,"r":5},{"c":"Dem. Rep. Congo","k":"B11","v":7,"r":5},{"c":"Dem. Rep. Congo","k":"B12","v":40,"r":5},{"c":"Dem. Rep. Congo","k":"B13","v":67,"r":2},{"c":"Dem. Rep. Congo","k":"B14","v":13,"r":5},{"c":"Dem. Rep. Congo","k":"B15","v":32,"r":5},{"c":"Dem. Rep. Congo","k":"B16","v":93,"r":1},{"c":"Dem. Rep. Congo","k":"AH","v":52,"r":5},{"c":"Dem. Rep. Congo","k":"B21","v":87,"r":3},{"c":"Dem. Rep. Congo","k":"B22","v":39,"r":2},{"c":"Dem. Rep. Congo","k":"B23","v":26,"r":4},{"c":"Dem. Rep. Congo","k":"B24","v":26,"r":5},{"c":"Dem. Rep. Congo","k":"EH","v":45,"r":5},{"c":"Dem. Rep. Congo","k":"B31","v":49,"r":3},{"c":"Dem. Rep. Congo","k":"B32","v":45,"r":5},{"c":"Dem. Rep. Congo","k":"B33","v":40,"r":5},{"c":"Dem. Rep. Congo","k":"B34","v":29,"r":4},{"c":"Dem. Rep. Congo","k":"B35","v":60,"r":2},{"c":"Dem. Rep. Congo","k":"GI","v":46,"r":5},
{"c":"Denmark","k":"HH","v":62,"r":1},{"c":"Denmark","k":"B11","v":87,"r":1},{"c":"Denmark","k":"B12","v":84,"r":1},{"c":"Denmark","k":"B13","v":29,"r":4},{"c":"Denmark","k":"B14","v":64,"r":1},{"c":"Denmark","k":"B15","v":69,"r":1},{"c":"Denmark","k":"B16","v":29,"r":4},{"c":"Denmark","k":"AH","v":64,"r":1},{"c":"Denmark","k":"B21","v":86,"r":3},{"c":"Denmark","k":"B22","v":27,"r":5},{"c":"Denmark","k":"B23","v":68,"r":1},{"c":"Denmark","k":"B24","v":54,"r":1},{"c":"Denmark","k":"EH","v":60,"r":1},{"c":"Denmark","k":"B31","v":63,"r":1},{"c":"Denmark","k":"B32","v":56,"r":3},{"c":"Denmark","k":"B33","v":49,"r":4},{"c":"Denmark","k":"B34","v":77,"r":1},{"c":"Denmark","k":"B35","v":58,"r":3},{"c":"Denmark","k":"GI","v":62,"r":1},
{"c":"Dominican Republic","k":"HH","v":47,"r":4},{"c":"Dominican Republic","k":"B11","v":26,"r":4},{"c":"Dominican Republic","k":"B12","v":63,"r":4},{"c":"Dominican Republic","k":"B13","v":54,"r":3},{"c":"Dominican Republic","k":"B14","v":20,"r":5},{"c":"Dominican Republic","k":"B15","v":62,"r":2},{"c":"Dominican Republic","k":"B16","v":49,"r":3},{"c":"Dominican Republic","k":"AH","v":56,"r":4},{"c":"Dominican Republic","k":"B21","v":91,"r":2},{"c":"Dominican Republic","k":"B22","v":42,"r":1},{"c":"Dominican Republic","k":"B23","v":46,"r":3},{"c":"Dominican Republic","k":"B24","v":25,"r":5},{"c":"Dominican Republic","k":"EH","v":47,"r":5},{"c":"Dominican Republic","k":"B31","v":50,"r":3},{"c":"Dominican Republic","k":"B32","v":46,"r":5},{"c":"Dominican Republic","k":"B33","v":52,"r":4},{"c":"Dominican Republic","k":"B34","v":37,"r":2},{"c":"Dominican Republic","k":"B35","v":49,"r":4},{"c":"Dominican Republic","k":"GI","v":50,"r":4},
{"c":"Ecuador","k":"HH","v":50,"r":4},{"c":"Ecuador","k":"B11","v":41,"r":3},{"c":"Ecuador","k":"B12","v":66,"r":3},{"c":"Ecuador","k":"B13","v":57,"r":2},{"c":"Ecuador","k":"B14","v":37,"r":3},{"c":"Ecuador","k":"B15","v":51,"r":4},{"c":"Ecuador","k":"B16","v":43,"r":3},{"c":"Ecuador","k":"AH","v":64,"r":1},{"c":"Ecuador","k":"B21","v":82,"r":4},{"c":"Ecuador","k":"B22","v":33,"r":4},{"c":"Ecuador","k":"B23","v":70,"r":1},{"c":"Ecuador","k":"B24","v":53,"r":1},{"c":"Ecuador","k":"EH","v":50,"r":4},{"c":"Ecuador","k":"B31","v":53,"r":2},{"c":"Ecuador","k":"B32","v":53,"r":3},{"c":"Ecuador","k":"B33","v":62,"r":1},{"c":"Ecuador","k":"B34","v":22,"r":5},{"c":"Ecuador","k":"B35","v":57,"r":3},{"c":"Ecuador","k":"GI","v":55,"r":3},
{"c":"Egypt","k":"HH","v":56,"r":2},{"c":"Egypt","k":"B11","v":40,"r":3},{"c":"Egypt","k":"B12","v":87,"r":1},{"c":"Egypt","k":"B13","v":59,"r":2},{"c":"Egypt","k":"B14","v":41,"r":3},{"c":"Egypt","k":"B15","v":47,"r":4},{"c":"Egypt","k":"B16","v":57,"r":2},{"c":"Egypt","k":"AH","v":53,"r":4},{"c":"Egypt","k":"B21","v":90,"r":2},{"c":"Egypt","k":"B22","v":37,"r":2},{"c":"Egypt","k":"B23","v":36,"r":4},{"c":"Egypt","k":"B24","v":22,"r":5},{"c":"Egypt","k":"EH","v":56,"r":2},{"c":"Egypt","k":"B31","v":40,"r":5},{"c":"Egypt","k":"B32","v":73,"r":1},{"c":"Egypt","k":"B33","v":66,"r":1},{"c":"Egypt","k":"B34","v":40,"r":2},{"c":"Egypt","k":"B35","v":62,"r":2},{"c":"Egypt","k":"GI","v":55,"r":3},
{"c":"Estonia","k":"HH","v":54,"r":3},{"c":"Estonia","k":"B11","v":90,"r":1},{"c":"Estonia","k":"B12","v":67,"r":3},{"c":"Estonia","k":"B13","v":32,"r":4},{"c":"Estonia","k":"B14","v":49,"r":2},{"c":"Estonia","k":"B15","v":58,"r":3},{"c":"Estonia","k":"B16","v":11,"r":5},{"c":"Estonia","k":"AH","v":68,"r":1},{"c":"Estonia","k":"B21","v":93,"r":2},{"c":"Estonia","k":"B22","v":43,"r":1},{"c":"Estonia","k":"B23","v":73,"r":1},{"c":"Estonia","k":"B24","v":48,"r":2},{"c":"Estonia","k":"EH","v":56,"r":2},{"c":"Estonia","k":"B31","v":48,"r":3},{"c":"Estonia","k":"B32","v":62,"r":2},{"c":"Estonia","k":"B33","v":57,"r":2},{"c":"Estonia","k":"B34","v":60,"r":1},{"c":"Estonia","k":"B35","v":57,"r":3},{"c":"Estonia","k":"GI","v":59,"r":1},
{"c":"Ethiopia","k":"HH","v":46,"r":5},{"c":"Ethiopia","k":"B11","v":15,"r":5},{"c":"Ethiopia","k":"B12","v":47,"r":5},{"c":"Ethiopia","k":"B13","v":75,"r":1},{"c":"Ethiopia","k":"B14","v":15,"r":5},{"c":"Ethiopia","k":"B15","v":35,"r":5},{"c":"Ethiopia","k":"B16","v":89,"r":1},{"c":"Ethiopia","k":"AH","v":50,"r":5},{"c":"Ethiopia","k":"B21","v":90,"r":2},{"c":"Ethiopia","k":"B22","v":34,"r":4},{"c":"Ethiopia","k":"B23","v":15,"r":5},{"c":"Ethiopia","k":"B24","v":23,"r":5},{"c":"Ethiopia","k":"EH","v":44,"r":5},{"c":"Ethiopia","k":"B31","v":47,"r":4},{"c":"Ethiopia","k":"B32","v":71,"r":1},{"c":"Ethiopia","k":"B33","v":29,"r":5},{"c":"Ethiopia","k":"B34","v":16,"r":5},{"c":"Ethiopia","k":"B35","v":59,"r":2},{"c":"Ethiopia","k":"GI","v":47,"r":5},
{"c":"Fiji","k":"HH","v":45,"r":5},{"c":"Fiji","k":"B11","v":39,"r":4},{"c":"Fiji","k":"B12","v":43,"r":5},{"c":"Fiji","k":"B13","v":34,"r":4},{"c":"Fiji","k":"B14","v":41,"r":2},{"c":"Fiji","k":"B15","v":58,"r":3},{"c":"Fiji","k":"B16","v":59,"r":2},{"c":"Fiji","k":"AH","v":65,"r":2},{"c":"Fiji","k":"B21","v":92,"r":2},{"c":"Fiji","k":"B22","v":53,"r":1},{"c":"Fiji","k":"B23","v":57,"r":2},{"c":"Fiji","k":"B24","v":41,"r":3},{"c":"Fiji","k":"EH","v":53,"r":3},{"c":"Fiji","k":"B31","v":59,"r":2},{"c":"Fiji","k":"B32","v":55,"r":3},{"c":"Fiji","k":"B33","v":61,"r":2},{"c":"Fiji","k":"B34","v":30,"r":3},{"c":"Fiji","k":"B35","v":56,"r":3},{"c":"Fiji","k":"GI","v":54,"r":3},
{"c":"Finland","k":"HH","v":61,"r":1},{"c":"Finland","k":"B11","v":95,"r":1},{"c":"Finland","k":"B12","v":89,"r":1},{"c":"Finland","k":"B13","v":40,"r":4},{"c":"Finland","k":"B14","v":53,"r":2},{"c":"Finland","k":"B15","v":60,"r":2},{"c":"Finland","k":"B16","v":11,"r":5},{"c":"Finland","k":"AH","v":59,"r":2},{"c":"Finland","k":"B21","v":75,"r":5},{"c":"Finland","k":"B22","v":34,"r":4},{"c":"Finland","k":"B23","v":77,"r":1},{"c":"Finland","k":"B24","v":45,"r":2},{"c":"Finland","k":"EH","v":59,"r":1},{"c":"Finland","k":"B31","v":58,"r":2},{"c":"Finland","k":"B32","v":47,"r":5},{"c":"Finland","k":"B33","v":60,"r":2},{"c":"Finland","k":"B34","v":74,"r":1},{"c":"Finland","k":"B35","v":55,"r":3},{"c":"Finland","k":"GI","v":59,"r":1},
{"c":"France","k":"HH","v":58,"r":2},{"c":"France","k":"B11","v":83,"r":2},{"c":"France","k":"B12","v":75,"r":2},{"c":"France","k":"B13","v":33,"r":4},{"c":"France","k":"B14","v":55,"r":1},{"c":"France","k":"B15","v":65,"r":2},{"c":"France","k":"B16","v":23,"r":5},{"c":"France","k":"AH","v":59,"r":2},{"c":"France","k":"B21","v":86,"r":3},{"c":"France","k":"B22","v":40,"r":2},{"c":"France","k":"B23","v":69,"r":1},{"c":"France","k":"B24","v":33,"r":4},{"c":"France","k":"EH","v":63,"r":1},{"c":"France","k":"B31","v":66,"r":1},{"c":"France","k":"B32","v":60,"r":2},{"c":"France","k":"B33","v":54,"r":3},{"c":"France","k":"B34","v":74,"r":1},{"c":"France","k":"B35","v":61,"r":2},{"c":"France","k":"GI","v":60,"r":1},
{"c":"Gabon","k":"HH","v":41,"r":5},{"c":"Gabon","k":"B11","v":18,"r":5},{"c":"Gabon","k":"B12","v":37,"r":5},{"c":"Gabon","k":"B13","v":63,"r":2},{"c":"Gabon","k":"B14","v":29,"r":4},{"c":"Gabon","k":"B15","v":40,"r":5},{"c":"Gabon","k":"B16","v":63,"r":2},{"c":"Gabon","k":"AH","v":46,"r":5},{"c":"Gabon","k":"B21","v":93,"r":2},{"c":"Gabon","k":"B22","v":32,"r":4},{"c":"Gabon","k":"B23","v":21,"r":5},{"c":"Gabon","k":"B24","v":8,"r":5},{"c":"Gabon","k":"EH","v":57,"r":2},{"c":"Gabon","k":"B31","v":40,"r":5},{"c":"Gabon","k":"B32","v":62,"r":2},{"c":"Gabon","k":"B33","v":73,"r":1},{"c":"Gabon","k":"B34","v":44,"r":2},{"c":"Gabon","k":"B35","v":66,"r":1},{"c":"Gabon","k":"GI","v":48,"r":5},
{"c":"Georgia","k":"HH","v":50,"r":4},{"c":"Georgia","k":"B11","v":54,"r":3},{"c":"Georgia","k":"B12","v":59,"r":3},{"c":"Georgia","k":"B13","v":27,"r":5},{"c":"Georgia","k":"B14","v":43,"r":1},{"c":"Georgia","k":"B15","v":60,"r":2},{"c":"Georgia","k":"B16","v":48,"r":3},{"c":"Georgia","k":"AH","v":62,"r":2},{"c":"Georgia","k":"B21","v":92,"r":2},{"c":"Georgia","k":"B22","v":31,"r":4},{"c":"Georgia","k":"B23","v":32,"r":4},{"c":"Georgia","k":"B24","v":52,"r":1},{"c":"Georgia","k":"EH","v":50,"r":3},{"c":"Georgia","k":"B31","v":42,"r":4},{"c":"Georgia","k":"B32","v":66,"r":1},{"c":"Georgia","k":"B33","v":64,"r":1},{"c":"Georgia","k":"B34","v":20,"r":5},{"c":"Georgia","k":"B35","v":57,"r":3},{"c":"Georgia","k":"GI","v":54,"r":3}
]},
"encoding":{
"x":{"field":"k","type":"nominal","sort":["HH","B11","B12","B13","B14","B15","B16","AH","B21","B22","B23","B24","EH","B31","B32","B33","B34","B35","GI"],"scale":{"paddingInner":0,"paddingOuter":0},
"axis":{"orient":"top","title":null,"domain":true,"domainColor":"#000","domainWidth":1,"ticks":true,"tickBand":"extent","tickSize":205,"tickColor":"#000",
"tickWidth":{"condition":{"test":"datum.value === 'GI'","value":2},"value":1},
"labelAngle":270,"labelAlign":"left","labelBaseline":"middle","labelPadding":-200,"labelFontSize":12,"labelColor":"#111","labelLimit":0,"labelOverlap":false,"labelBound":false,"labelFlush":false,"labelLineHeight":15,
"labelOffset":{"condition":{"test":"datum.value === 'B11' || datum.value === 'B13' || datum.value === 'B15' || datum.value === 'AH' || datum.value === 'B22' || datum.value === 'GI'","value":-7.5},"value":0},
"labelFontWeight":{"condition":{"test":"datum.value === 'HH' || datum.value === 'AH' || datum.value === 'EH' || datum.value === 'GI'","value":"bold"},"value":"normal"},
"labelExpr":"datum.value === 'HH' ? 'Human Health' : datum.value === 'B11' ? ['B.1.1 Reproductive, Maternal,', 'New-born and Child Health'] : datum.value === 'B12' ? 'B.1.2 Infectious Diseases' : datum.value === 'B13' ? ['B.1.3 Non-communicable Diseases', 'and Mental Health'] : datum.value === 'B14' ? 'B.1.4 Injuries and Violence' : datum.value === 'B15' ? ['B.1.5 Universal Health Coverage', 'and Health Systems'] : datum.value === 'B16' ? 'B.1.6 Health Risk' : datum.value === 'AH' ? ['Animal Health', 'and Ecosystem Diversity'] : datum.value === 'B21' ? 'B.2.1 Animal Epidemic Disease' : datum.value === 'B22' ? ['B.2.2 Animal Welfare,  Relevant', 'Regulations'] : datum.value === 'B23' ? 'B.2.3 Animal Nutritional Status' : datum.value === 'B24' ? 'B.2.4 Animal Biodiversity' : datum.value === 'EH' ? 'Environmental Health' : datum.value === 'B31' ? 'B.3.1 Air Quality and Climate Change' : datum.value === 'B32' ? 'B.3.2 Land Resources' : datum.value === 'B33' ? 'B.3.3 Sanitation and Water Resources' : datum.value === 'B34' ? 'B.3.4 Hazardous Chemicals' : datum.value === 'B35' ? 'B.3.5 Environmental biodiversity' : datum.value === 'GI' ? ['Global One Health', 'Intrinsic Drivers Index'] : ''"}}
},
"layer":[
{"mark":{"type":"rect"},
 "encoding":{
  "y":{"field":"c","type":"nominal","sort":null,"scale":{"paddingInner":0,"paddingOuter":0},
   "axis":{"title":"Country","titleAngle":270,"titleAlign":"left","titleBaseline":"middle","titleX":-164,"titleY":-5,"titleFontWeight":"bold","titleFontSize":11.5,"titleColor":"#111",
    "domain":false,"ticks":false,"labelAlign":"left","labelBaseline":"middle","labelPadding":170,"labelFontSize":11.6,"labelColor":"#111","labelLimit":0}},
  "color":{"field":"r","type":"ordinal","scale":{"domain":[1,2,3,4,5],"range":["#eef8ea","#bfe6c3","#7dcdc5","#41a3d0","#0b6ec2"]},
   "legend":{"title":"Rankings","orient":"none","legendX":-167,"legendY":-185,"titleFontSize":11,"titleFontWeight":"bold","titleColor":"#111","titlePadding":6,
    "symbolType":"square","symbolSize":210,"symbolStrokeColor":"#777","symbolStrokeWidth":1,"symbolOpacity":1,"labelFontSize":11,"labelColor":"#111","labelOffset":12,"rowPadding":0,
    "labelExpr":"datum.value == 1 ? '1–30' : datum.value == 2 ? '31–60' : datum.value == 3 ? '61–90' : datum.value == 4 ? '91–120' : '121–146'"}}}},
{"mark":{"type":"text","fontSize":11,"color":"#1a1a1a"},
 "encoding":{"y":{"field":"c","type":"nominal","sort":null},"text":{"field":"v","type":"quantitative"}}},
{"transform":[{"filter":"datum.k === 'GI' && datum.c === 'Afghanistan'"}],
 "mark":{"type":"rect","filled":false,"stroke":"#000","strokeWidth":2},
 "encoding":{}}
]
}
